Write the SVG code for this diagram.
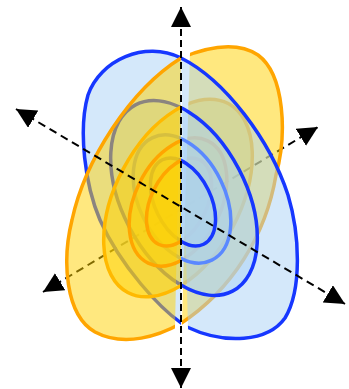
<svg xmlns="http://www.w3.org/2000/svg" width="349" height="389" viewBox="0 0 349 389">
<style>
.bf { fill:#aad2f5; fill-opacity:0.5; stroke:#1637ff; stroke-width:3.5; }
.bf3 { stroke:#5a88ff; }
.yf { fill:#ffd200; fill-opacity:0.5; stroke:#ffa500; stroke-width:3.5; }
.yf2 { stroke:#ffb900; }
.axis { fill:none; stroke:#000; stroke-width:2; stroke-dasharray:8 5; marker-start:url(#ah); marker-end:url(#ah); }
.vaxis { stroke-dasharray:7 4; }
</style>
<defs>
<clipPath id="cBL"><polygon points="0,0 181,0 181,389 0,389"/></clipPath>
<clipPath id="cBRo"><polygon points="179.5,0 349,0 349,389 189.6,389"/></clipPath>
<clipPath id="cBRi"><polygon points="181,0 349,0 349,389 181,389"/></clipPath>
<clipPath id="cYR"><polygon points="191.6,0 349,0 349,389 180,389"/></clipPath>
<clipPath id="cYLo"><polygon points="0,0 182.3,0 173.6,389 0,389"/></clipPath>
<clipPath id="cYLi"><polygon points="0,0 181,0 181,389 0,389"/></clipPath>
<path id="B1" d="M181,58 C225,80 270,140 288,195 C300,235 302,290 285,318 C268,342 225,345 187,327 C160,310 120,265 100,220 C85,185 78,130 88,95 C100,60 145,40 181,58 Z"/>
<ellipse id="B2" cx="184" cy="198" rx="105" ry="62" transform="rotate(62.5 184 198)"/>
<ellipse id="B3" cx="182" cy="199" rx="68" ry="43" transform="rotate(64 182 199)"/>
<ellipse id="B4" cx="183" cy="202" rx="47" ry="28" transform="rotate(64 183 202)"/>
<path id="Y1" d="M181,58 C205,48 235,40 258,55 C285,75 287,135 276,175 C266,235 232,290 180,324 C160,335 125,348 95,332 C65,315 62,260 72,220 C85,160 130,90 181,58 Z"/>
<ellipse id="Y2" cx="178" cy="198" rx="107" ry="62" transform="rotate(-62 178 198)"/>
<ellipse id="Y3" cx="178" cy="202" rx="68" ry="43" transform="rotate(-64 178 202)"/>
<ellipse id="Y4" cx="179" cy="202" rx="47" ry="28" transform="rotate(-64 179 202)"/>
<marker id="ah" viewBox="0 0 20 20" refX="20" refY="10" markerWidth="20" markerHeight="20" markerUnits="userSpaceOnUse" orient="auto-start-reverse"><path d="M0,0 L20,10 L0,20 Z" fill="#000"/></marker>
</defs>
<g id="axes-back">
<path class="axis" d="M43,292 L318,127"/>
</g>
<g id="blue-lobe-back">
<use href="#B1" class="bf" clip-path="url(#cBL)"/>
<use href="#B2" class="bf" clip-path="url(#cBL)"/>
<use href="#B3" class="bf bf3" clip-path="url(#cBL)"/>
<use href="#B4" class="bf" clip-path="url(#cBL)"/>
</g>
<g id="yellow-lobe-back">
<use href="#Y1" class="yf" clip-path="url(#cYR)"/>
<use href="#Y2" class="yf yf2" clip-path="url(#cYR)"/>
<use href="#Y3" class="yf" clip-path="url(#cYR)"/>
<use href="#Y4" class="yf" clip-path="url(#cYR)"/>
</g>
<g id="yellow-lobe-front">
<use href="#Y1" class="yf" clip-path="url(#cYLo)"/>
<use href="#Y2" class="yf yf2" clip-path="url(#cYLi)"/>
<use href="#Y3" class="yf" clip-path="url(#cYLi)"/>
<use href="#Y4" class="yf" clip-path="url(#cYLi)"/>
</g>
<g id="blue-lobe-front">
<use href="#B1" class="bf" clip-path="url(#cBRo)"/>
<use href="#B2" class="bf" clip-path="url(#cBRi)"/>
<use href="#B3" class="bf bf3" clip-path="url(#cBRi)"/>
<use href="#B4" class="bf" clip-path="url(#cBRi)"/>
</g>
<g id="connectors">
<path class="axis" d="M16,109 L345,304"/>
<path class="axis vaxis" d="M181,7 L181,388"/>
</g>
</svg>
